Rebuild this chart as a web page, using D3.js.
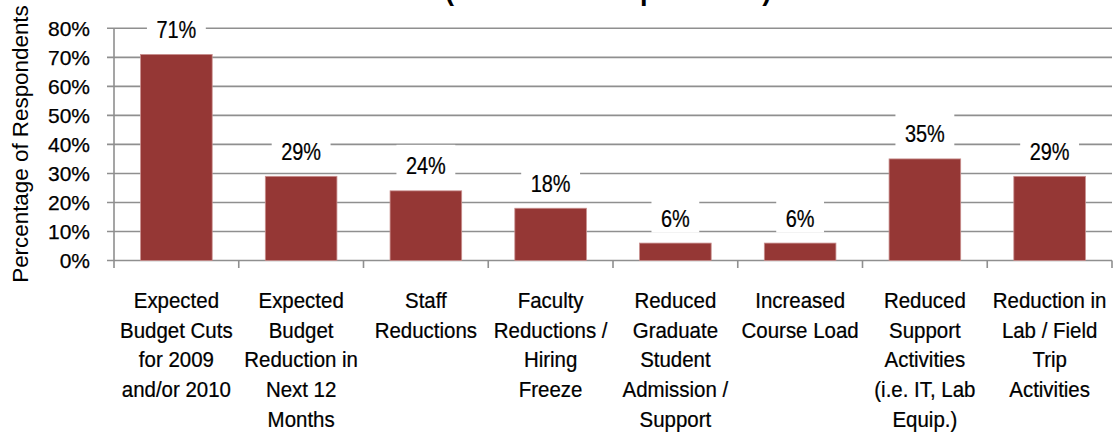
<!DOCTYPE html>
<html>
<head>
<meta charset="utf-8">
<script src="https://cdn.jsdelivr.net/npm/d3@7"></script>
<style>
  html, body { margin: 0; padding: 0; background: #fff; }
  svg { display: block; }
  .cat text, .tick-label, .axis-title, .val { font-family: "Liberation Sans", Arial, sans-serif; fill: #000; }
  .cat text, .tick-label, .val { stroke: #000; stroke-width: 0.25px; }
  .title { font-family: "Liberation Sans", Arial, sans-serif; font-weight: bold; fill: #000; }
</style>
</head>
<body>
<svg id="chart" width="1115" height="439"></svg>
<script>
// Budget impacts reported by departments, share of respondents (%)
const categories = [
  "Expected\nBudget Cuts\nfor 2009\nand/or 2010",
  "Expected\nBudget\nReduction in\nNext 12\nMonths",
  "Staff\nReductions",
  "Faculty\nReductions /\nHiring\nFreeze",
  "Reduced\nGraduate\nStudent\nAdmission /\nSupport",
  "Increased\nCourse Load",
  "Reduced\nSupport\nActivities\n(i.e. IT, Lab\nEquip.)",
  "Reduction in\nLab / Field\nTrip\nActivities"
];
const values = [71, 29, 24, 18, 6, 6, 35, 29];
const yTicks = [0, 10, 20, 30, 40, 50, 60, 70, 80];
const titleText = "(Academic Respondents)";
const yTitle = "Percentage of Respondents";

const svg = d3.select("#chart");

const plotLeft = 114, plotRight = 1112, plotTop = 28.3, plotBottom = 260.5;

// category slots (edges for tick marks) and bars inside each slot
const xSlot = d3.scaleBand().domain(categories).range([plotLeft, plotRight]).padding(0);
const xBar = d3.scaleBand().domain(categories).range([plotLeft, plotRight])
  .paddingInner(0.426).paddingOuter(0.213);
const y = d3.scaleLinear().domain([0, 80]).range([plotBottom, plotTop]);

const grey = "#8f8f8f";

// horizontal gridlines with short ticks on the left
svg.append("g").selectAll("line").data(yTicks).join("line")
  .attr("x1", plotLeft - 7).attr("x2", plotRight)
  .attr("y1", d => y(d)).attr("y2", d => y(d))
  .attr("stroke", grey).attr("stroke-width", 1.6);

// y axis line
svg.append("line")
  .attr("x1", plotLeft).attr("x2", plotLeft)
  .attr("y1", y(80)).attr("y2", plotBottom + 7.5)
  .attr("stroke", grey).attr("stroke-width", 1.6);

// x ticks at the slot boundaries
const edges = categories.map(c => xSlot(c)).concat([plotRight]);
svg.append("g").selectAll("line").data(edges.slice(1)).join("line")
  .attr("x1", d => d).attr("x2", d => d)
  .attr("y1", plotBottom).attr("y2", plotBottom + 7.5)
  .attr("stroke", grey).attr("stroke-width", 1.6);

// y tick labels
svg.append("g").selectAll("text").data(yTicks).join("text")
  .attr("class", "tick-label")
  .attr("x", 90).attr("y", d => y(d))
  .attr("dy", "0.36em")
  .attr("text-anchor", "end")
  .attr("font-size", 21)
  .text(d => d + "%");

// y axis title
svg.append("text")
  .attr("class", "axis-title")
  .attr("transform", "translate(28,144) rotate(-90)")
  .attr("text-anchor", "middle")
  .attr("font-size", 22.4)
  .text(yTitle);

// chart title (second line sits at the top edge)
svg.append("text")
  .attr("class", "title")
  .attr("x", 445).attr("y", 0)
  .attr("text-anchor", "start")
  .attr("font-size", 27.2)
  .text(titleText);

// bars
svg.append("g").selectAll("rect").data(values).join("rect")
  .attr("x", (d, i) => xBar(categories[i]))
  .attr("width", xBar.bandwidth())
  .attr("y", d => y(d))
  .attr("height", d => plotBottom - y(d))
  .attr("fill", "#953735")
  .attr("stroke", "#c98f8e")
  .attr("stroke-width", 0.8);

// value labels on white boxes (narrowed type)
const labels = svg.append("g").selectAll("g").data(values).join("g")
  .attr("transform", (d, i) => `translate(${xBar(categories[i]) + xBar.bandwidth() / 2},${y(d) - 16.5})`);
labels.append("rect").attr("fill", "#fff");
labels.append("text")
  .attr("class", "val")
  .attr("text-anchor", "middle")
  .attr("font-size", 24)
  .attr("transform", "scale(0.83,1)")
  .text(d => d + "%");
labels.each(function () {
  const g = d3.select(this);
  const w = g.select("text").node().getComputedTextLength() * 0.83 + 19;
  g.select("rect").attr("x", -w / 2).attr("width", w).attr("y", -29.5).attr("height", 35.5);
});

// category labels, slightly condensed
const cat = svg.append("g").attr("class", "cat").selectAll("text").data(categories).join("text")
  .attr("text-anchor", "middle")
  .attr("font-size", 22)
  .attr("transform", d => `translate(${xSlot(d) + xSlot.bandwidth() / 2},308.3) scale(0.93,1)`);
cat.selectAll("tspan").data(d => d.split("\n")).join("tspan")
  .attr("x", 0)
  .attr("dy", (d, i) => i === 0 ? 0 : 29.6)
  .text(d => d);
</script>
</body>
</html>
